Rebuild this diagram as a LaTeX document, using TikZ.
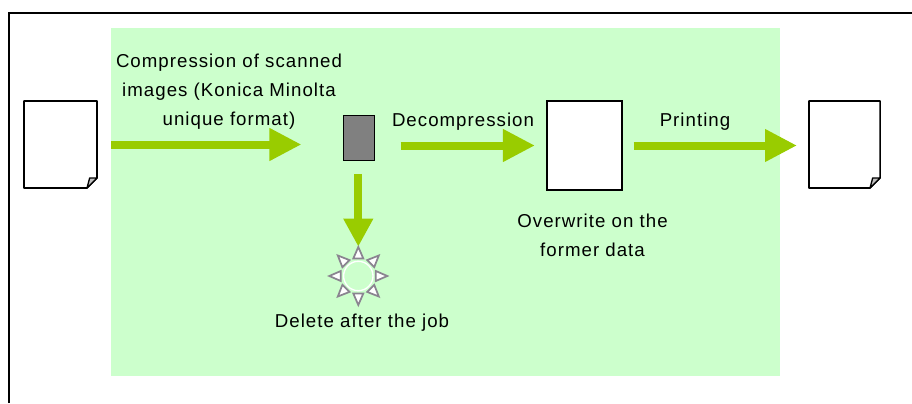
\documentclass[tikz,border=0pt]{standalone}
\usepackage{fontspec}
\setmainfont[LetterSpace=5.5]{Liberation Sans}
\usetikzlibrary{arrows.meta}
\definecolor{panelgreen}{HTML}{CCFFCC}
\definecolor{arrowgreen}{HTML}{99CC00}
\definecolor{boxgrey}{HTML}{808080}
\definecolor{raygrey}{HTML}{8A8490}
\tikzset{
  x=0.75pt,y=-0.75pt,
  label/.style={font=\fontsize{14pt}{21.75pt}\selectfont,align=center,inner sep=0pt,text=black},
  flow/.style={draw=arrowgreen,line width=6pt,-{Triangle[length=24pt,width=23pt,fill=arrowgreen]}},
  docspace/.style={minimum height=65.25pt,inner sep=0pt,outer sep=0pt},
  docline/.style={draw=black,line width=1.15pt,line join=round,fill=white},
  foldline/.style={draw=black,line width=1pt,line join=round,fill=lightgray},
  ray/.style={draw=raygrey,line width=1.3pt,line join=miter,fill=white},
}
\newcommand{\dogear}[1]{%
  \draw[docline] (#1.north west) -- (#1.north east) -- ([yshift=7.5pt]#1.south east)
    -- ([xshift=-7.5pt]#1.south east) -- (#1.south west) -- cycle;
  \draw[foldline] ([xshift=-7.5pt]#1.south east) -- ([xshift=-5.5pt,yshift=7.5pt]#1.south east) -- ([yshift=7.5pt]#1.south east) -- cycle;
}
\begin{document}
\begin{tikzpicture}
\useasboundingbox (0,0) rectangle (912,403);
\clip (0,0) rectangle (912,403);
\fill[white] (0,0) rectangle (912,403);
\draw[black,line width=1.8pt] (9,403) -- (9,13) -- (912,13);
\fill[panelgreen] (111,28) rectangle (780,376);

\node[docspace,minimum width=54.75pt] (src) at (60.5,144.5) {};
\node[docspace,minimum width=53.25pt] (dst) at (844.5,144.5) {};
\dogear{src}
\dogear{dst}
\node[draw=black,line width=1.3pt,fill=white,minimum width=56pt,minimum height=66.5pt,inner sep=0pt] (mid) at (584.5,145.5) {};
\node[draw=black,line width=0.8pt,fill=boxgrey,minimum width=23.5pt,minimum height=34pt,inner sep=0pt] (mem) at (359,138) {};
\coordinate (burst) at (358.3,276);

\draw[flow,shorten <=10.5pt,shorten >=31pt] (src.east) -- (src.east -| mem.west);
\draw[flow,shorten <=19pt,shorten >=8.5pt] (mem.east |- mid.west) -- (mid.west);
\draw[flow,shorten <=8.2pt,shorten >=9pt] (mid.east) -- (mid.east -| dst.west);
\draw[flow,line width=6pt,-{Triangle[length=21pt,width=21pt,fill=arrowgreen]},shorten <=9.5pt,shorten >=22pt] (burst |- mem.south) -- (burst);

\draw[white,line width=1pt] (burst) circle[radius=14.7];
\foreach \a in {0,45,...,315}{
  \draw[ray,rotate around={\a:(burst)}] (358.3-5,276-17.5) -- (358.3+5,276-17.5) -- (358.3,276-29) -- cycle;
}

\node[label] (t1) at (229,91.5) {Compression of scanned\\images (Konica Minolta\\unique format)};
\node[label] (t2) at (463,121.5) {Decompression};
\node[label] (t3) at (695,122) {Printing};
\node[label] (t4) at (592.5,235) {Overwrite on the\\former data};
\node[label] (t5) at (362,323) {Delete after the job};
\end{tikzpicture}
\end{document}
